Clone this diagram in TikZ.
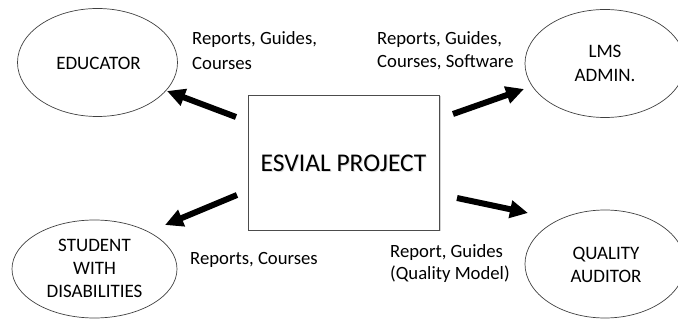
\documentclass[tikz,border=0pt]{standalone}
\usepackage{fontspec}
\setmainfont{Carlito}
\usetikzlibrary{arrows.meta,shapes.geometric,shadows}
\begin{document}
\begin{tikzpicture}[x=1pt,y=-1pt,
  actor/.style={draw=black!75, line width=0.7pt, ellipse, inner sep=0pt,
    minimum width=160pt, minimum height=108pt},
  actortext/.style={anchor=base, align=center, inner sep=0pt,
    font=\fontsize{19}{23.5}\selectfont},
  flowlabel/.style={anchor=base west, align=left, inner sep=0pt,
    font=\fontsize{18.7}{24}\selectfont},
  flow/.style={line width=6pt, -{Triangle[length=18pt,width=17pt]}},
  project/.style={draw=black!70, line width=0.8pt, fill=white,
    minimum width=191pt, minimum height=135pt, inner sep=0pt,
    drop shadow={shadow xshift=1.5pt, shadow yshift=-1.5pt, opacity=0.35}},
  projtext/.style={font=\fontsize{25.5}{30}\selectfont, inner sep=0pt}
]
\useasboundingbox (0,0) rectangle (678,320);
\clip (0,0) rectangle (678,320);

% central project box, title with a soft shadow behind it
\node[project] (proj) at (343.5,162.5) {};
\node[projtext, text=black!25, opacity=0.5] (projglow) at (344.5,164.5) {ESVIAL PROJECT};
\node[projtext] (projtitle) at (343.5,163.5) {ESVIAL PROJECT};

% actors
\node[actor] (edu) at (97.5,62.5) {};
\node[actortext] (edutext) at (98.5,70) {EDUCATOR};

\node[actor] (lms) at (605,63.5) {};
\node[actortext, font=\fontsize{19}{24}\selectfont] (lmstext) at (605,82) {LMS\\ADMIN.};

\node[actor, minimum width=165pt, minimum height=98pt] (stu) at (94.5,269) {};
\node[actortext, font=\fontsize{19}{23}\selectfont] (stutext) at (94.5,298) {STUDENT\\WITH\\DISABILITIES};

\node[actor] (qa) at (605,264) {};
\node[actortext, font=\fontsize{19}{23}\selectfont] (qatext) at (606,283) {QUALITY\\AUDITOR};

% deliverables
\node[flowlabel, font=\fontsize{18.7}{25}\selectfont] (edulabel) at (192,70) {Reports, Guides,\\Courses};
\node[flowlabel, font=\fontsize{18.7}{23}\selectfont] (lmslabel) at (377,68) {Reports, Guides,\\Courses, Software};
\node[flowlabel] (stulabel) at (190,265) {Reports, Courses};
\node[flowlabel, font=\fontsize{18.7}{22}\selectfont] (qalabel) at (390,280) {Report, Guides\\(Quality Model)};

% arrow ends
\coordinate (edutail) at (236,117);
\coordinate (edutip) at (167,91);
\coordinate (lmstail) at (453,114);
\coordinate (lmstip) at (524,89);
\coordinate (stutail) at (237,195);
\coordinate (stutip) at (165,225);
\coordinate (qatail) at (457,198);
\coordinate (qatip) at (528,213);

\draw[flow] (edutail) -- (edutip);
\draw[flow] (lmstail) -- (lmstip);
\draw[flow] (stutail) -- (stutip);
\draw[flow] (qatail) -- (qatip);
\end{tikzpicture}
\end{document}
